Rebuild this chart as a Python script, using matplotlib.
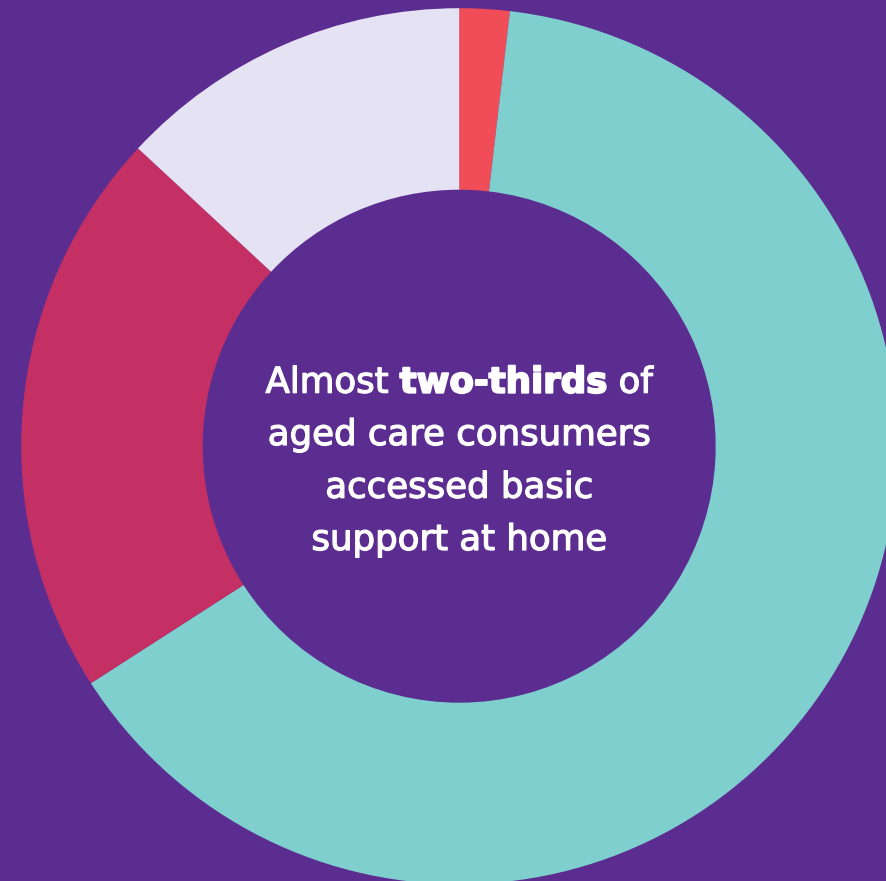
import matplotlib
matplotlib.use("Agg")
import matplotlib.pyplot as plt
import matplotlib.patheffects as pe

# Data (share of consumers, clockwise from 12 o'clock)
categories = ["Segment A", "Basic support at home", "Segment C", "Segment D"]
values = [1.85, 64.05, 21.0, 13.1]
colors = ["#F04D59", "#7FCFCF", "#C43063", "#E5E3F3"]

line1_parts = [("Almost ", "normal"), ("two-thirds", "bold"), (" of", "normal")]
other_lines = ["aged care consumers", "accessed basic", "support at home"]

BG = "#5C2D91"
W, H = 887, 881
fig = plt.figure(figsize=(W / 100, H / 100), dpi=100, facecolor=BG)
ax = fig.add_axes([0, 0, 1, 1])
ax.set_facecolor(BG)

cx, cy = 459.2, H - 446.2
R = 438.0
r_in = 256.5
ax.pie(values, colors=colors, startangle=90, counterclock=False,
       center=(cx, cy), radius=R,
       wedgeprops=dict(width=R - r_in, linewidth=0, antialiased=True),
       frame=True)
ax.set_xlim(0, W)
ax.set_ylim(0, H)
ax.set_aspect("auto")
ax.axis("off")

FONT = "DejaVu Sans"
baselines = [392.7, 445.0, 497.7, 550.0]
medium = [pe.withStroke(linewidth=0.9, foreground="white")]
heavy = [pe.withStroke(linewidth=1.4, foreground="white")]

fig.canvas.draw()
renderer = fig.canvas.get_renderer()

# fit font size so that line 2 is ~386 px wide
probe = ax.text(0, 0, other_lines[0], fontsize=20, family=FONT)
fig.canvas.draw()
w20 = probe.get_window_extent(renderer).width
probe.remove()
FS = 20 * 383.0 / w20

texts = []
for s, w in line1_parts:
    t = ax.text(0, H - baselines[0], s, color="white", fontsize=FS,
                fontweight=w, family=FONT, va="baseline", ha="left",
                path_effects=medium if w == "normal" else heavy)
    texts.append(t)
fig.canvas.draw()
widths = [t.get_window_extent(renderer).width for t in texts]
x = cx - sum(widths) / 2
for t, wd in zip(texts, widths):
    t.set_x(x)
    x += wd

for s, b in zip(other_lines, baselines[1:]):
    ax.text(cx, H - b, s, color="white", fontsize=FS, fontweight="normal",
            family=FONT, va="baseline", ha="center", path_effects=medium)

fig.savefig("out.png", dpi=100, facecolor=BG)
